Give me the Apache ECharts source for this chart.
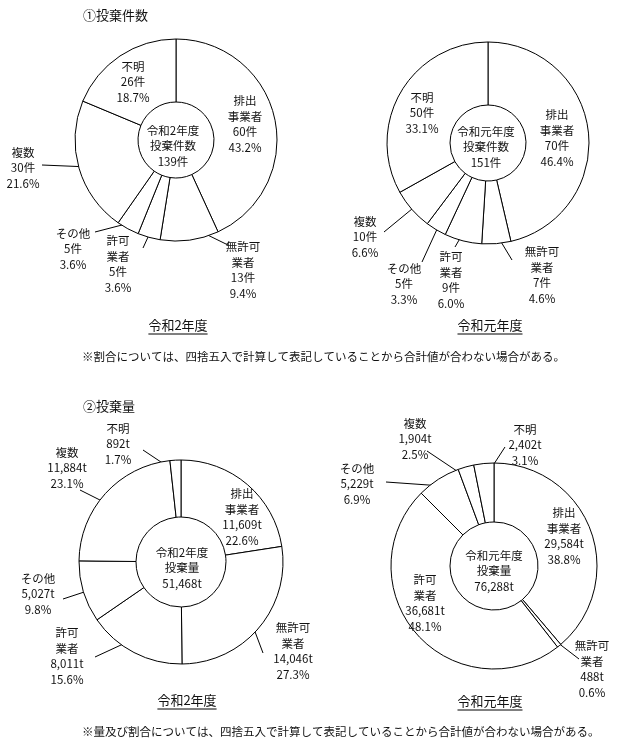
<!DOCTYPE html>
<html>
<head>
<meta charset="utf-8">
<script src="https://cdn.jsdelivr.net/npm/echarts@6/dist/echarts.min.js"></script>
<style>
    html, body { margin: 0; padding: 0; background: #fff; }
    #main { width: 624px; height: 745px; }
</style>
</head>
<body>
<div id="main"></div>
<script>
"use strict";

// categories, clockwise from 12 o'clock
const categories = ['排出事業者', '無許可業者', '許可業者', 'その他', '複数', '不明'];
// ① 投棄件数 (件)
const countR2 = [60, 13, 5, 5, 30, 26];
const countR1 = [70, 7, 9, 5, 10, 50];
// ② 投棄量 (t)
const amountR2 = [11609, 14046, 8011, 5027, 11884, 892];
const amountR1 = [29584, 488, 36681, 5229, 1904, 2402];
const totalsCount = [139, 151];
const totalsAmount = [51468, 76288];
const years = ['令和2年度', '令和元年度'];

const FONT = '"Noto Sans CJK JP", "Noto Sans", sans-serif';
const INK = '#111';
const lineBreak = {'排出事業者': '排出\n事業者', '無許可業者': '無許可\n業者', '許可業者': '許可\n業者'};

// layout of each donut: label offsets from center, leader lines = [radius inside ring, end dx, end dy]
const panels = [
    {
        values: countR2, total: totalsCount[0], unit: '件', year: years[0], metric: '投棄件数',
        center: [176, 140], radius: [38, 101], centerText: [173, 146], caption: [178, 325],
        labels: [[69, -16], [67, 130], [-58, 124], [-103, 109], [-153, 28], [-43, -58]],
        leaders: [null, [86, 52, 105], [95, -33, 108], [94, -81, 92], [96, -134, 25], null]
    },
    {
        values: countR1, total: totalsCount[1], unit: '件', year: years[1], metric: '投棄件数',
        center: [488, 143], radius: [38, 101], centerText: [486, 147], caption: [490, 325],
        labels: [[69, -5], [54, 132], [-37, 137], [-84, 141], [-123, 94], [-66, -30]],
        leaders: [null, [90, 24, 117], [87, -33, 104], [94, -66, 119], [91, -104, 89], null]
    },
    {
        values: amountR2, total: totalsAmount[0], unit: 't', year: years[0], metric: '投棄量',
        center: [181, 562], radius: [45, 102], centerText: [182, 568], caption: [187, 700],
        labels: [[61, -45], [112, 89], [-114, 94], [-143, 32], [-114, -94], [-63, -118]],
        leaders: [null, [92, 82, 91], [82, -86, 95], [80, -118, 37], [71, -101, -72], [90, -38, -112]]
    },
    {
        values: amountR1, total: totalsAmount[1], unit: 't', year: years[1], metric: '投棄量',
        center: [494, 566], radius: [44, 103], centerText: [494, 571], caption: [490, 701],
        labels: [[70, -30], [98, 103], [-69, 37], [-137, -82], [-79, -127], [31, -121]],
        leaders: [null, [96, 85, 93], [null], [95, -108, -84], [90, -67, -115], [89, 11, -119]]
    }
];

function fmt(v) {
    return v.toLocaleString('en-US');
}

// point inside the slice, at its middle angle
function slicePoint(p, i, r) {
    const sum = p.values.reduce((a, b) => a + b, 0);
    let before = 0;
    for (let k = 0; k < i; k++) before += p.values[k];
    const a = (before + p.values[i] / 2) / sum * Math.PI * 2;
    return [p.center[0] + r * Math.sin(a), p.center[1] - r * Math.cos(a)];
}

const series = panels.map((p) => {
    const sum = p.values.reduce((a, b) => a + b, 0);
    return {
        type: 'pie',
        center: p.center,
        radius: p.radius,
        startAngle: 90,
        clockwise: true,
        avoidLabelOverlap: false,
        silent: true,
        animation: false,
        itemStyle: {color: '#fff', borderColor: '#000', borderWidth: 1},
        label: {
            show: true,
            position: 'outside',
            color: INK,
            fontFamily: FONT,
            fontSize: 11.5,
            lineHeight: 15.5,
            align: 'center',
            formatter: (params) => (lineBreak[params.name] || params.name) + '\n' +
                fmt(params.value) + p.unit + '\n' + (params.value / sum * 100).toFixed(1) + '%'
        },
        labelLine: {show: true, lineStyle: {color: '#000', width: 1}},
        labelLayout: (params) => {
            const i = params.dataIndex;
            const off = p.labels[i];
            const out = {
                x: p.center[0] + off[0],
                y: p.center[1] + off[1],
                align: 'center',
                verticalAlign: 'middle'
            };
            const ld = p.leaders[i];
            if (ld && ld[0] != null) {
                const s = slicePoint(p, i, ld[0]);
                const e = [p.center[0] + ld[1], p.center[1] + ld[2]];
                out.labelLinePoints = [s, e, e];
            }
            return out;
        },
        data: categories.map((name, i) => ({
            name: name,
            value: p.values[i],
            labelLine: {show: !!(p.leaders[i] && p.leaders[i][0] != null)}
        }))
    };
});

// text width for the underlines
const measureCtx = document.createElement('canvas').getContext('2d');
function textWidth(text, size) {
    measureCtx.font = size + 'px ' + FONT;
    return measureCtx.measureText(text).width;
}

const graphic = [];
function addText(text, x, y, size, align, lineHeight) {
    graphic.push({
        type: 'text', x: x, y: y, silent: true,
        style: {
            text: text, fill: INK, fontFamily: FONT, fontSize: size,
            lineHeight: lineHeight || size + 4,
            textAlign: align, textVerticalAlign: 'middle'
        }
    });
}

addText('①投棄件数', 83, 15, 13, 'left');
addText('②投棄量', 83, 406, 13, 'left');
addText('※割合については、四捨五入で計算して表記していることから合計値が合わない場合がある。', 82, 357, 11.5, 'left');
addText('※量及び割合については、四捨五入で計算して表記していることから合計値が合わない場合がある。', 82, 732, 11.5, 'left');

panels.forEach((p) => {
    addText(p.year + '\n' + p.metric + '\n' + fmt(p.total) + p.unit, p.centerText[0], p.centerText[1], 11.5, 'center', 15.5);
    addText(p.year, p.caption[0], p.caption[1], 13, 'center');
    const w = textWidth(p.year, 13);
    graphic.push({
        type: 'line', silent: true,
        shape: {x1: p.caption[0] - w / 2, y1: p.caption[1] + 9, x2: p.caption[0] + w / 2, y2: p.caption[1] + 9},
        style: {stroke: '#000', lineWidth: 1}
    });
});

const myChart = echarts.init(document.getElementById('main'));
myChart.setOption({
    backgroundColor: '#fff',
    animation: false,
    series: series,
    graphic: graphic
});
</script>
</body>
</html>
